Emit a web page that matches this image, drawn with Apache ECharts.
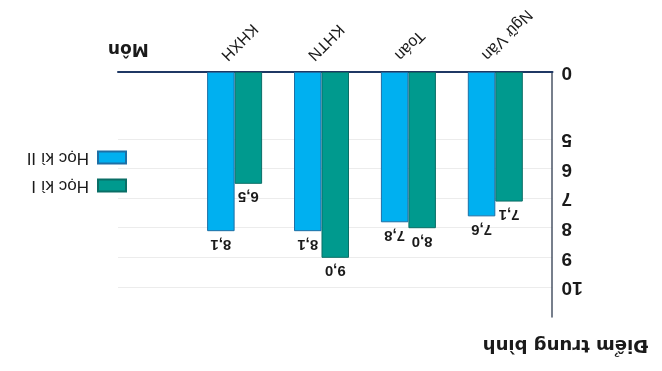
<!DOCTYPE html>
<html>
<head>
<meta charset="utf-8">
<script src="https://cdn.jsdelivr.net/npm/echarts@6/dist/echarts.min.js"></script>
<style>
  html, body { margin: 0; padding: 0; background: #ffffff; }
  #chart { position: absolute; left: 0; top: 0; width: 662px; height: 371px; transform: rotate(180deg); transform-origin: 50% 50%; }
</style>
</head>
<body>
<div id="chart"></div>
<script>
// ---- data ----
const categories = ['Ngữ Văn', 'Toán', 'KHTN', 'KHXH', ''];
const seriesNames = ['Học kì I', 'Học kì II'];
const hocKi1 = [7.1, 8.0, 9.0, 6.5];
const hocKi2 = [7.6, 7.8, 8.1, 8.1];
const yTickValues = [2.74, 5, 6, 7, 8, 9, 10];
const yTickLabels = ['0', '5', '6', '7', '8', '9', '10'];
const xAxisName = 'Môn';
const yAxisName = 'Điểm trung bình';

const Y_MIN = yTickValues[0];
const Y_MAX = 11;

const fmt = (v) => v.toFixed(1).replace('.', ',');

const chart = echarts.init(document.getElementById('chart'), null, { renderer: 'canvas' });

const dataLabel = {
  show: true,
  position: 'top',
  distance: 5,
  color: '#1a1a1a',
  fontSize: 15,
  fontWeight: 'bold',
  fontFamily: "'Liberation Sans', Arial, sans-serif",
  formatter: (p) => fmt(p.value)
};

chart.setOption({
  animation: false,
  backgroundColor: '#ffffff',
  grid: [
    { left: 109.5, right: 118, top: 54, bottom: 72.5, containLabel: false },
    // label track for the subject names (drawn slightly to the right of the bar pairs)
    { left: 134.5, right: 93, top: 54, bottom: 72.5, containLabel: false }
  ],
  legend: {
    orient: 'vertical',
    left: 530,
    top: 172,
    itemWidth: 28,
    itemHeight: 12,
    itemGap: 11,
    icon: 'rect',
    data: seriesNames,
    textStyle: { fontSize: 17, color: '#1a1a1a', padding: [0, 0, 0, 4], fontFamily: "'Liberation Sans', Arial, sans-serif" }
  },
  xAxis: [
    {
      type: 'category',
      gridIndex: 0,
      data: categories,
      name: xAxisName,
      nameLocation: 'end',
      nameGap: 10,
      nameTextStyle: {
        align: 'right', verticalAlign: 'top', padding: [16, 0, 0, 0],
        fontSize: 17, fontWeight: 'bold', color: '#1a1a1a',
        fontFamily: "'DejaVu Sans', sans-serif"
      },
      axisLine: { show: true, lineStyle: { color: '#1f3864', width: 2 } },
      axisTick: { show: false },
      axisLabel: { show: false },
      splitLine: { show: false }
    },
    {
      type: 'category',
      gridIndex: 1,
      data: categories,
      axisLine: { show: false },
      axisTick: { show: false },
      axisLabel: {
        interval: 0,
        rotate: 45,
        margin: 15,
        fontSize: 16,
        color: '#1a1a1a',
        fontFamily: "'Liberation Sans', Arial, sans-serif"
      },
      splitLine: { show: false }
    }
  ],
  yAxis: [
    {
      type: 'value',
      gridIndex: 0,
      min: Y_MIN,
      max: Y_MAX,
      name: yAxisName,
      nameLocation: 'end',
      nameGap: 28,
      nameTextStyle: {
        align: 'center', verticalAlign: 'middle', padding: [0, 26, 0, 0],
        fontSize: 18, fontWeight: 'bold', color: '#1a1a1a',
        fontFamily: "'DejaVu Sans', sans-serif"
      },
      axisLine: { show: true, lineStyle: { color: '#4a5566', width: 1.5 } },
      axisTick: { show: false, customValues: yTickValues },
      axisLabel: {
        customValues: yTickValues,
        margin: 9,
        fontSize: 19,
        fontWeight: 'bold',
        color: '#1a1a1a',
        fontFamily: "'Liberation Sans Narrow', 'Liberation Sans', sans-serif",
        formatter: (v) => {
          const i = yTickValues.findIndex((t) => Math.abs(t - v) < 1e-6);
          return i >= 0 ? yTickLabels[i] : '';
        }
      },
      splitLine: { show: true, lineStyle: { color: '#ececec', width: 1 } }
    },
    { type: 'value', gridIndex: 1, min: Y_MIN, max: Y_MAX, show: false }
  ],
  series: [
    {
      name: '_spacer',
      type: 'bar',
      data: [],
      barWidth: 27.5,
      barGap: '0%',
      silent: true
    },
    {
      name: seriesNames[0],
      type: 'bar',
      data: hocKi1,
      barWidth: 27.5,
      barGap: '0%',
      itemStyle: { color: '#009a8e', borderColor: '#0a6e66', borderWidth: 1 },
      label: dataLabel
    },
    {
      name: seriesNames[1],
      type: 'bar',
      data: hocKi2,
      barWidth: 27.5,
      barGap: '0%',
      itemStyle: { color: '#00b0f0', borderColor: '#1d6fa5', borderWidth: 1 },
      label: dataLabel
    }
  ]
});
</script>
</body>
</html>
